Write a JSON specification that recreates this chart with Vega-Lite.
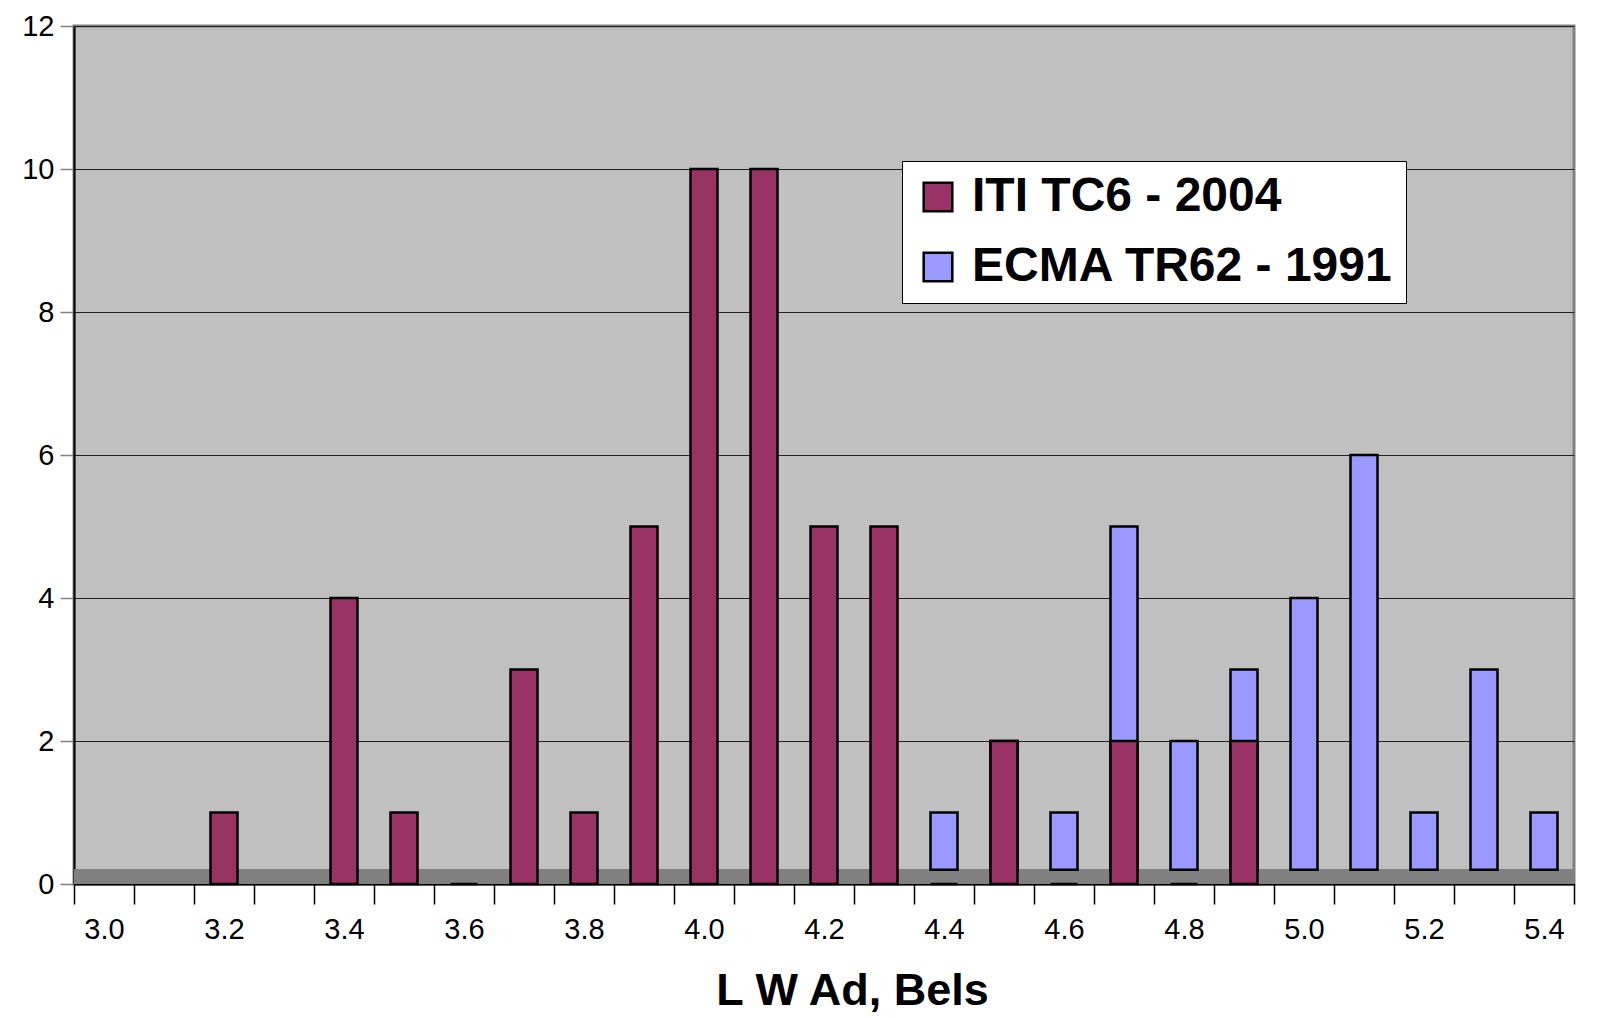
{
  "$schema": "https://vega.github.io/schema/vega-lite/v6.json",
  "width": 1500,
  "height": 858,
  "autosize": {"type": "none"},
  "padding": {"left": 74, "top": 26, "right": 36, "bottom": 134},
  "background": "white",
  "config": {
    "font": "Liberation Sans",
    "view": {"fill": "#C0C0C0", "stroke": "#808080", "strokeWidth": 3}
  },
  "data": {
    "values": [
      {"x": "3.2", "series": "ITI TC6 - 2004", "count": 1},
      {"x": "3.4", "series": "ITI TC6 - 2004", "count": 4},
      {"x": "3.5", "series": "ITI TC6 - 2004", "count": 1},
      {"x": "3.6", "series": "ITI TC6 - 2004", "count": 0},
      {"x": "3.7", "series": "ITI TC6 - 2004", "count": 3},
      {"x": "3.8", "series": "ITI TC6 - 2004", "count": 1},
      {"x": "3.9", "series": "ITI TC6 - 2004", "count": 5},
      {"x": "4.0", "series": "ITI TC6 - 2004", "count": 10},
      {"x": "4.1", "series": "ITI TC6 - 2004", "count": 10},
      {"x": "4.2", "series": "ITI TC6 - 2004", "count": 5},
      {"x": "4.3", "series": "ITI TC6 - 2004", "count": 5},
      {"x": "4.4", "series": "ITI TC6 - 2004", "count": 0},
      {"x": "4.5", "series": "ITI TC6 - 2004", "count": 2},
      {"x": "4.6", "series": "ITI TC6 - 2004", "count": 0},
      {"x": "4.7", "series": "ITI TC6 - 2004", "count": 2},
      {"x": "4.8", "series": "ITI TC6 - 2004", "count": 0},
      {"x": "4.9", "series": "ITI TC6 - 2004", "count": 2},
      {"x": "4.4", "series": "ECMA TR62 - 1991", "count": 1},
      {"x": "4.5", "series": "ECMA TR62 - 1991", "count": 2},
      {"x": "4.6", "series": "ECMA TR62 - 1991", "count": 1},
      {"x": "4.7", "series": "ECMA TR62 - 1991", "count": 5},
      {"x": "4.8", "series": "ECMA TR62 - 1991", "count": 2},
      {"x": "4.9", "series": "ECMA TR62 - 1991", "count": 3},
      {"x": "5.0", "series": "ECMA TR62 - 1991", "count": 4},
      {"x": "5.1", "series": "ECMA TR62 - 1991", "count": 6},
      {"x": "5.2", "series": "ECMA TR62 - 1991", "count": 1},
      {"x": "5.3", "series": "ECMA TR62 - 1991", "count": 3},
      {"x": "5.4", "series": "ECMA TR62 - 1991", "count": 1}
    ]
  },
  "encoding": {
    "x": {
      "field": "x",
      "type": "nominal",
      "scale": {
        "domain": ["3.0","3.1","3.2","3.3","3.4","3.5","3.6","3.7","3.8","3.9","4.0","4.1","4.2","4.3","4.4","4.5","4.6","4.7","4.8","4.9","5.0","5.1","5.2","5.3","5.4"],
        "paddingInner": 0, "paddingOuter": 0
      },
      "axis": {
        "title": "L W Ad, Bels",
        "titleFont": "Liberation Sans",
        "titleFontSize": 45,
        "titleFontWeight": "bold",
        "titleColor": "black",
        "titlePadding": 24,
        "titleX": 778,
        "labelAngle": 0,
        "labelFontSize": 29,
        "labelColor": "black",
        "labelPadding": 11,
        "labelExpr": "indexof(['3.0','3.2','3.4','3.6','3.8','4.0','4.2','4.4','4.6','4.8','5.0','5.2','5.4'], datum.value) >= 0 ? datum.value : ''",
        "tickBand": "extent",
        "tickColor": "black",
        "tickSize": 20,
        "tickWidth": 1.5,
        "domainColor": "black",
        "domainWidth": 2,
        "grid": false
      }
    }
  },
  "layer": [
    {
      "mark": {"type": "rect", "fill": "#808080"},
      "encoding": {
        "x": null,
        "y": {"datum": 0, "type": "quantitative"},
        "y2": {"datum": 0.2}
      }
    },
    {
      "transform": [{"filter": "datum.series === 'ECMA TR62 - 1991'"}],
      "mark": {"type": "bar", "size": 27, "stroke": "black", "strokeWidth": 2.5},
      "encoding": {
        "y": {"field": "count", "type": "quantitative"},
        "y2": {"datum": 0.2},
        "color": {"field": "series", "type": "nominal"}
      }
    },
    {
      "transform": [{"filter": "datum.series === 'ITI TC6 - 2004'"}],
      "mark": {"type": "bar", "size": 27, "stroke": "black", "strokeWidth": 2.5},
      "encoding": {
        "y": {
          "field": "count",
          "type": "quantitative",
          "scale": {"domain": [0, 12], "nice": false},
          "axis": {
            "title": null,
            "values": [0, 2, 4, 6, 8, 10, 12],
            "format": "d",
            "labelFontSize": 29,
            "labelColor": "black",
            "labelPadding": 6,
            "tickColor": "#808080",
            "tickSize": 14,
            "tickWidth": 1.5,
            "domainColor": "black",
            "domainWidth": 2,
            "grid": true,
            "gridColor": "#222222",
            "gridWidth": 1.2
          }
        },
        "color": {
          "field": "series",
          "type": "nominal",
          "scale": {"domain": ["ITI TC6 - 2004", "ECMA TR62 - 1991"], "range": ["#993366", "#9999FF"]},
          "legend": {
            "title": null,
            "orient": "none",
            "legendX": 828,
            "legendY": 135,
            "direction": "vertical",
            "fillColor": "white",
            "strokeColor": "black",
            "padding": 12,
            "symbolType": "square",
            "symbolSize": 820,
            "symbolStrokeColor": "black",
            "symbolStrokeWidth": 2.5,
            "symbolOpacity": 1,
            "labelFont": "Liberation Sans",
            "labelFontSize": 48,
            "labelFontWeight": "bold",
            "labelColor": "black",
            "labelOffset": 10,
            "labelLimit": 1000,
            "rowPadding": 22
          }
        }
      }
    }
  ]
}
